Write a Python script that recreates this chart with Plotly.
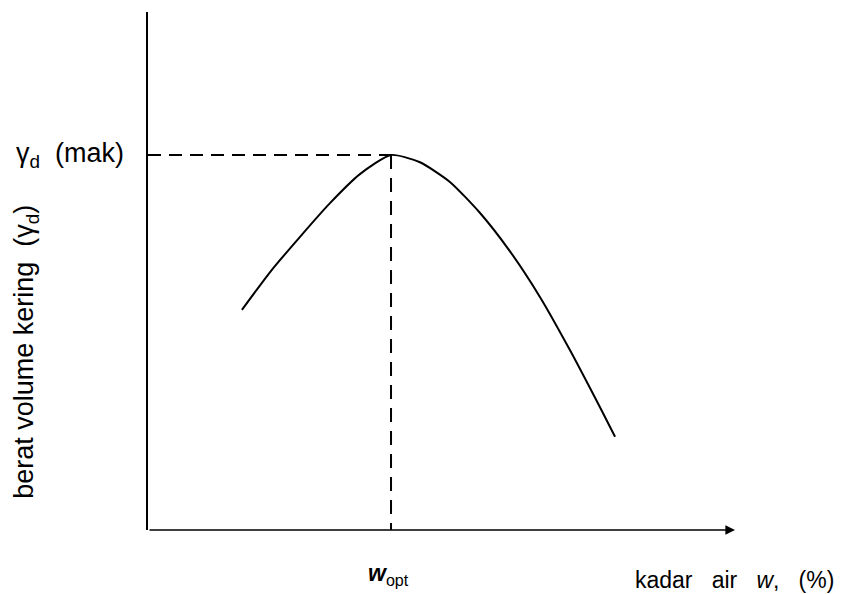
import plotly.graph_objects as go

# Compaction curve (arbitrary units)
w_pct = [4.80, 6.24, 7.77, 9.30, 10.83, 12.42, 13.90, 15.43, 16.97, 18.50, 20.03, 21.57, 23.10, 23.87]
gamma_d = [4.25, 4.98, 5.66, 6.31, 6.87, 7.24, 7.10, 6.72, 6.12, 5.38, 4.50, 3.47, 2.37, 1.80]
w_opt = 12.42
gamma_max = 7.24
x_max = 30.0
y_max = 10.0

fig = go.Figure()

fig.add_trace(go.Scatter(x=w_pct, y=gamma_d, mode="lines",
                         line=dict(color="black", width=2, shape="spline", smoothing=0.6),
                         hoverinfo="skip"))
fig.add_trace(go.Scatter(x=[0, w_opt], y=[gamma_max, gamma_max], mode="lines",
                         line=dict(color="black", width=2, dash="13px,8px"), hoverinfo="skip"))
fig.add_trace(go.Scatter(x=[w_opt, w_opt], y=[gamma_max, 0], mode="lines",
                         line=dict(color="black", width=2, dash="14px,9px"), hoverinfo="skip"))

font_main = "Liberation Sans, Arial, sans-serif"

annotations = [
    # x-axis arrow
    dict(x=x_max, y=0, ax=0, ay=0, xref="x", yref="y", axref="x", ayref="y",
         text="", showarrow=True, arrowhead=2, arrowsize=1.2, arrowwidth=1.6, arrowcolor="black"),
    dict(x=0, y=gamma_max, xref="x", yref="y", xanchor="right", yanchor="middle",
         xshift=-22, yshift=0, text="γ<sub>d</sub>  (mak)", showarrow=False,
         font=dict(family=font_main, size=27, color="black")),
    dict(x=w_opt, y=0, xref="x", yref="y", xanchor="center", yanchor="middle",
         yshift=-44, xshift=-3, text="<i><b>w</b></i><sub>opt</sub>", showarrow=False,
         font=dict(family=font_main, size=23, color="black")),
    dict(x=0, y=0, xref="paper", yref="paper", xanchor="left", yanchor="middle",
         xshift=485, yshift=-50,
         text="kadar   air   <i>w</i>,   (%)", showarrow=False,
         font=dict(family=font_main, size=23, color="black")),
    dict(x=0, y=0.344, xref="paper", yref="paper", xanchor="center", yanchor="middle",
         xshift=-122, textangle=-90,
         text="berat volume kering  (γ<sub>d</sub>)", showarrow=False,
         font=dict(family=font_main, size=27, color="black")),
]

fig.update_layout(
    width=850, height=594,
    margin=dict(l=140, r=123, t=4, b=72, autoexpand=False),
    paper_bgcolor="white", plot_bgcolor="white",
    showlegend=False,
    annotations=annotations,
    xaxis=dict(range=[0, x_max], showgrid=False, zeroline=False, showticklabels=False,
               ticks="", showline=False, automargin=False),
    yaxis=dict(range=[0, y_max], showgrid=False, zeroline=False, showticklabels=False,
               ticks="", showline=True, linecolor="black", linewidth=2, automargin=False),
)

fig.write_html("out.html")
